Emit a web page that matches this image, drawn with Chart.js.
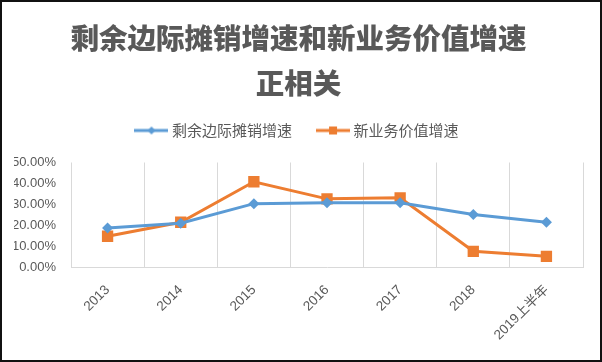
<!DOCTYPE html>
<html lang="zh">
<head>
  <meta charset="UTF-8">
  <title>剩余边际摊销增速和新业务价值增速正相关</title>
  <script src="https://cdn.jsdelivr.net/npm/chart.js"></script>
  <style>
    html, body {
      margin: 0;
      padding: 0;
      background: #fff;
    }
    #wrap {
      width: 602px;
      height: 362px;
      box-sizing: border-box;
      border: 2px solid #111;
      background: #fff;
    }
  </style>
</head>
<body>
  <div id="wrap">
    <canvas id="chart" width="598" height="358"></canvas>
  </div>

  <script>
    const years = ["2013", "2014", "2015", "2016", "2017", "2018", "2019上半年"];
    const csmGrowth = [18.7, 20.9, 30.3, 30.7, 30.7, 25.1, 21.4];   // 剩余边际摊销增速
    const nbvGrowth = [14.7, 21.4, 40.8, 32.6, 33.1, 7.5, 5.1];     // 新业务价值增速
    const yTicks = [0, 10, 20, 30, 40, 50];

    const blue = "#5b9bd5";
    const orange = "#ed7d31";
    const textColor = "#595959";
    const fontFamily = "'Liberation Sans', 'Noto Sans CJK SC', sans-serif";
    const cjkFont = "'Noto Sans CJK SC', sans-serif";

    // legend icon: short line with marker, like Excel
    function legendIcon(color, shape) {
      const c = document.createElement("canvas");
      c.width = 34;
      c.height = 12;
      const g = c.getContext("2d");
      g.strokeStyle = color;
      g.lineWidth = 3;
      g.beginPath();
      g.moveTo(0, 6);
      g.lineTo(34, 6);
      g.stroke();
      g.fillStyle = color;
      g.beginPath();
      if (shape === "diamond") {
        g.moveTo(17, 2); g.lineTo(21, 6); g.lineTo(17, 10); g.lineTo(13, 6);
      } else {
        g.rect(13, 2, 8, 8);
      }
      g.closePath();
      g.fill();
      return c;
    }
    const icons = [legendIcon(blue, "diamond"), legendIcon(orange, "square")];

    // extra room under the legend (Excel leaves a gap before the plot)
    const legendGap = {
      id: "legendGap",
      beforeInit(chart) {
        const fit = chart.legend.fit;
        chart.legend.fit = function () {
          fit.call(this);
          this.height += 14.5;
        };
      }
    };

    new Chart(document.getElementById("chart"), {
      type: "line",
      data: {
        labels: years,
        datasets: [
          {
            label: "剩余边际摊销增速",
            data: csmGrowth,
            borderColor: blue,
            backgroundColor: blue,
            borderWidth: 3,
            pointStyle: "rectRot",
            pointRadius: 5.5,
            pointBorderWidth: 0,
            tension: 0
          },
          {
            label: "新业务价值增速",
            data: nbvGrowth,
            borderColor: orange,
            backgroundColor: orange,
            borderWidth: 3,
            pointStyle: "rect",
            pointRadius: 8,
            pointBorderWidth: 0,
            tension: 0
          }
        ]
      },
      plugins: [legendGap],
      options: {
        responsive: false,
        animation: false,
        layout: { padding: { top: 13.5, left: 12, right: 17, bottom: 0 } },
        plugins: {
          title: {
            display: true,
            text: ["剩余边际摊销增速和新业务价值增速", "正相关"],
            color: textColor,
            font: { family: cjkFont, size: 28.5, weight: 900, lineHeight: 45 / 28.5 },
            padding: { top: 0, bottom: -10.5 }
          },
          legend: {
            position: "top",
            labels: {
              usePointStyle: true,
              pointStyleWidth: 26,
              color: textColor,
              font: { family: cjkFont, size: 15 },
              padding: 28,
              generateLabels(chart) {
                return chart.data.datasets.map((ds, i) => ({
                  text: ds.label,
                  fillStyle: ds.backgroundColor,
                  strokeStyle: ds.borderColor,
                  lineWidth: 0,
                  pointStyle: icons[i],
                  fontColor: textColor,
                  datasetIndex: i
                }));
              }
            }
          },
          tooltip: { enabled: false }
        },
        scales: {
          x: {
            offset: true,
            grid: { offset: true, color: "#d9d9d9", drawTicks: false },
            border: { display: true, color: "#d9d9d9" },
            afterFit(scale) {
              scale.height = 93;
            },
            ticks: {
              color: textColor,
              font: { family: fontFamily, size: 13.5 },
              minRotation: 45,
              maxRotation: 45,
              autoSkip: false,
              padding: 15
            }
          },
          y: {
            min: 0,
            max: 50,
            grid: { display: false, drawTicks: false },
            border: { display: false },
            afterBuildTicks(scale) {
              scale.ticks = yTicks.map(v => ({ value: v }));
            },
            afterFit(scale) {
              scale.width = 57;
            },
            ticks: {
              color: textColor,
              font: { family: fontFamily, size: 13 },
              autoSkip: false,
              padding: 15,
              callback: v => v.toFixed(2) + "%"
            }
          }
        }
      }
    });
  </script>
</body>
</html>
